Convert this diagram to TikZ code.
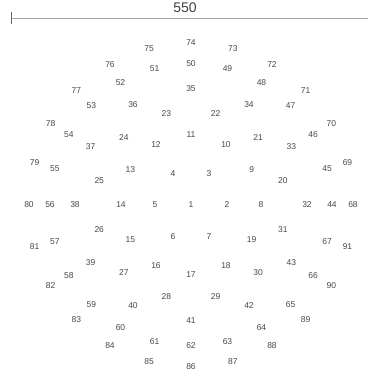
\documentclass[tikz,border=0pt]{standalone}
\usepackage{fontspec}
\setmainfont{Liberation Sans}
\usetikzlibrary{arrows.meta}
\begin{document}
\begin{tikzpicture}
        [x=1pt, y=1pt, num/.style={text=black!72, font=\fontsize{8.5}{8.5}\selectfont, inner sep=0pt},
        dim/.style={black!35, line width=1pt},
        dimlabel/.style={text=black!75, font=\fontsize{14}{14}\selectfont, inner sep=0pt}]

        \useasboundingbox (-191,-187) rectangle (177,205);

        \coordinate (dimL) at (-180,187);
        \coordinate (dimR) at (177,187);
        \draw[dim, {Bar[width=12pt, black!60]}-] (dimL) -- (dimR);
        \node[dimlabel] (len) at (-6,197) {550};

        \node[num] (n1) at (0,0) {1};

        \node[num] (n2) at (0:36) {2};
        \node[num] (n3) at (60:36) {3};
        \node[num] (n4) at (120:36) {4};
        \node[num] (n5) at (180:36) {5};
        \node[num] (n6) at (240:36) {6};
        \node[num] (n7) at (300:36) {7};

        \node[num] (n8) at (0:70) {8};
        \node[num] (n9) at (30:70) {9};
        \node[num] (n10) at (60:70) {10};
        \node[num] (n11) at (90:70) {11};
        \node[num] (n12) at (120:70) {12};
        \node[num] (n13) at (150:70) {13};
        \node[num] (n14) at (180:70) {14};
        \node[num] (n15) at (210:70) {15};
        \node[num] (n16) at (240:70) {16};
        \node[num] (n17) at (270:70) {17};
        \node[num] (n18) at (300:70) {18};
        \node[num] (n19) at (330:70) {19};

        \node[num] (n20) at (15:95) {20};
        \node[num] (n21) at (45:95) {21};
        \node[num] (n22) at (75:95) {22};
        \node[num] (n23) at (105:95) {23};
        \node[num] (n24) at (135:95) {24};
        \node[num] (n25) at (165:95) {25};
        \node[num] (n26) at (195:95) {26};
        \node[num] (n27) at (225:95) {27};
        \node[num] (n28) at (255:95) {28};
        \node[num] (n29) at (285:95) {29};
        \node[num] (n30) at (315:95) {30};
        \node[num] (n31) at (345:95) {31};

        \node[num] (n32) at (0:116) {32};
        \node[num] (n33) at (30:116) {33};
        \node[num] (n34) at (60:116) {34};
        \node[num] (n35) at (90:116) {35};
        \node[num] (n36) at (120:116) {36};
        \node[num] (n37) at (150:116) {37};
        \node[num] (n38) at (180:116) {38};
        \node[num] (n39) at (210:116) {39};
        \node[num] (n40) at (240:116) {40};
        \node[num] (n41) at (270:116) {41};
        \node[num] (n42) at (300:116) {42};
        \node[num] (n43) at (330:116) {43};

        \node[num] (n44) at (0:141) {44};
        \node[num] (n45) at (15:141) {45};
        \node[num] (n46) at (30:141) {46};
        \node[num] (n47) at (45:141) {47};
        \node[num] (n48) at (60:141) {48};
        \node[num] (n49) at (75:141) {49};
        \node[num] (n50) at (90:141) {50};
        \node[num] (n51) at (105:141) {51};
        \node[num] (n52) at (120:141) {52};
        \node[num] (n53) at (135:141) {53};
        \node[num] (n54) at (150:141) {54};
        \node[num] (n55) at (165:141) {55};
        \node[num] (n56) at (180:141) {56};
        \node[num] (n57) at (195:141) {57};
        \node[num] (n58) at (210:141) {58};
        \node[num] (n59) at (225:141) {59};
        \node[num] (n60) at (240:141) {60};
        \node[num] (n61) at (255:141) {61};
        \node[num] (n62) at (270:141) {62};
        \node[num] (n63) at (285:141) {63};
        \node[num] (n64) at (300:141) {64};
        \node[num] (n65) at (315:141) {65};
        \node[num] (n66) at (330:141) {66};
        \node[num] (n67) at (345:141) {67};

        \node[num] (n68) at (0:162) {68};
        \node[num] (n69) at (15:162) {69};
        \node[num] (n70) at (30:162) {70};
        \node[num] (n71) at (45:162) {71};
        \node[num] (n72) at (60:162) {72};
        \node[num] (n73) at (75:162) {73};
        \node[num] (n74) at (90:162) {74};
        \node[num] (n75) at (105:162) {75};
        \node[num] (n76) at (120:162) {76};
        \node[num] (n77) at (135:162) {77};
        \node[num] (n78) at (150:162) {78};
        \node[num] (n79) at (165:162) {79};
        \node[num] (n80) at (180:162) {80};
        \node[num] (n81) at (195:162) {81};
        \node[num] (n82) at (210:162) {82};
        \node[num] (n83) at (225:162) {83};
        \node[num] (n84) at (240:162) {84};
        \node[num] (n85) at (255:162) {85};
        \node[num] (n86) at (270:162) {86};
        \node[num] (n87) at (285:162) {87};
        \node[num] (n88) at (300:162) {88};
        \node[num] (n89) at (315:162) {89};
        \node[num] (n90) at (330:162) {90};
        \node[num] (n91) at (345:162) {91};

    \end{tikzpicture}
\end{document}
